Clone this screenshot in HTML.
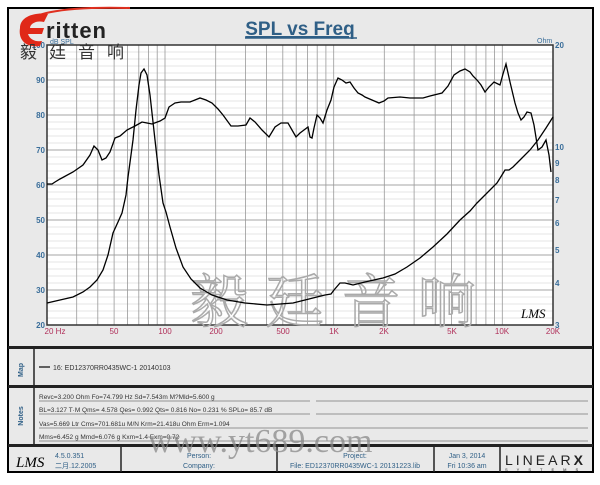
<!DOCTYPE html>
<html><head><meta charset="utf-8"><style>
body{margin:0;background:#fff;width:600px;height:480px;overflow:hidden;font-family:"Liberation Sans","Noto Sans CJK SC",sans-serif}
</style></head><body>
<svg width="600" height="480" viewBox="0 0 600 480" xmlns="http://www.w3.org/2000/svg" font-family="Liberation Sans, Noto Sans CJK SC, sans-serif">
<rect x="8" y="8" width="585" height="464" fill="#e9e9e9" stroke="#000" stroke-width="2"/>
<!-- panels separators -->
<rect x="8" y="346" width="585" height="3" fill="#222"/>
<rect x="8" y="385" width="585" height="3" fill="#222"/>
<rect x="8" y="444" width="585" height="3" fill="#222"/>
<line x1="34" y1="349" x2="34" y2="444" stroke="#222" stroke-width="1.5"/>
<line x1="121" y1="447" x2="121" y2="472" stroke="#222" stroke-width="1.5"/>
<line x1="277" y1="447" x2="277" y2="472" stroke="#222" stroke-width="1.5"/>
<line x1="434" y1="447" x2="434" y2="472" stroke="#222" stroke-width="1.5"/>
<line x1="500" y1="447" x2="500" y2="472" stroke="#222" stroke-width="1.5"/>
<!-- plot -->
<rect x="47" y="45" width="506" height="280" fill="#fff" stroke="#444" stroke-width="1"/>
<g stroke="#ccc" stroke-width="0.6" id="minor">
<line x1="47" x2="553" y1="52" y2="52"/><line x1="47" x2="553" y1="59" y2="59"/><line x1="47" x2="553" y1="66" y2="66"/><line x1="47" x2="553" y1="73" y2="73"/>
<line x1="47" x2="553" y1="87" y2="87"/><line x1="47" x2="553" y1="94" y2="94"/><line x1="47" x2="553" y1="101" y2="101"/><line x1="47" x2="553" y1="108" y2="108"/>
<line x1="47" x2="553" y1="122" y2="122"/><line x1="47" x2="553" y1="129" y2="129"/><line x1="47" x2="553" y1="136" y2="136"/><line x1="47" x2="553" y1="143" y2="143"/>
<line x1="47" x2="553" y1="157" y2="157"/><line x1="47" x2="553" y1="164" y2="164"/><line x1="47" x2="553" y1="171" y2="171"/><line x1="47" x2="553" y1="178" y2="178"/>
<line x1="47" x2="553" y1="192" y2="192"/><line x1="47" x2="553" y1="199" y2="199"/><line x1="47" x2="553" y1="206" y2="206"/><line x1="47" x2="553" y1="213" y2="213"/>
<line x1="47" x2="553" y1="227" y2="227"/><line x1="47" x2="553" y1="234" y2="234"/><line x1="47" x2="553" y1="241" y2="241"/><line x1="47" x2="553" y1="248" y2="248"/>
<line x1="47" x2="553" y1="262" y2="262"/><line x1="47" x2="553" y1="269" y2="269"/><line x1="47" x2="553" y1="276" y2="276"/><line x1="47" x2="553" y1="283" y2="283"/>
<line x1="47" x2="553" y1="297" y2="297"/><line x1="47" x2="553" y1="304" y2="304"/><line x1="47" x2="553" y1="311" y2="311"/><line x1="47" x2="553" y1="318" y2="318"/>
</g>
<g stroke="#888" stroke-width="0.8">
<line x1="47" x2="553" y1="80" y2="80"/><line x1="47" x2="553" y1="115" y2="115"/><line x1="47" x2="553" y1="150" y2="150"/><line x1="47" x2="553" y1="185" y2="185"/><line x1="47" x2="553" y1="220" y2="220"/><line x1="47" x2="553" y1="255" y2="255"/><line x1="47" x2="553" y1="290" y2="290"/>
</g>
<g stroke="#999" stroke-width="0.8">
<line y1="45" y2="325" x1="76.7" x2="76.7"/><line y1="45" y2="325" x1="97.8" x2="97.8"/><line y1="45" y2="325" x1="114.1" x2="114.1"/><line y1="45" y2="325" x1="127.5" x2="127.5"/><line y1="45" y2="325" x1="138.8" x2="138.8"/><line y1="45" y2="325" x1="148.5" x2="148.5"/><line y1="45" y2="325" x1="157.2" x2="157.2"/><line y1="45" y2="325" x1="165" x2="165"/>
<line y1="45" y2="325" x1="215.7" x2="215.7"/><line y1="45" y2="325" x1="245.4" x2="245.4"/><line y1="45" y2="325" x1="266.5" x2="266.5"/><line y1="45" y2="325" x1="282.8" x2="282.8"/><line y1="45" y2="325" x1="296.2" x2="296.2"/><line y1="45" y2="325" x1="307.5" x2="307.5"/><line y1="45" y2="325" x1="317.2" x2="317.2"/><line y1="45" y2="325" x1="325.9" x2="325.9"/><line y1="45" y2="325" x1="333.7" x2="333.7"/>
<line y1="45" y2="325" x1="384.3" x2="384.3"/><line y1="45" y2="325" x1="414.1" x2="414.1"/><line y1="45" y2="325" x1="435.2" x2="435.2"/><line y1="45" y2="325" x1="451.5" x2="451.5"/><line y1="45" y2="325" x1="464.8" x2="464.8"/><line y1="45" y2="325" x1="476.1" x2="476.1"/><line y1="45" y2="325" x1="485.9" x2="485.9"/><line y1="45" y2="325" x1="494.5" x2="494.5"/><line y1="45" y2="325" x1="502.3" x2="502.3"/>
</g>
<rect x="47" y="45" width="506" height="280" fill="none" stroke="#333" stroke-width="1.5"/>
<!-- watermark -->
<text x="190" y="322" font-size="58" fill="none" stroke="#aaa" stroke-width="1.5" font-family="Noto Serif CJK SC, serif" letter-spacing="18">毅廷音响</text>
<!-- curves -->
<polyline fill="none" stroke="#000" stroke-width="1.3" points="47,184 52,184 55,182 60,179 73,172 83,165 90,155 94,146 98,150 102,160 106,158 110,152 115,138 120,136 127,130 135,126 142,122 147,123 152,124 160,121 165,118 169,107 175,103 181,102 190,102 200,98 206,100 212,103 218,109 223,115 231,126 238,126 246,125 250,118 255,122 262,130 269,137 275,127 281,123 288,123 292,130 296,137 300,133 304,130 308,127 310,137 312,138 314,128 317,115 320,118 323,123 327,110 331,100 334,87 338,78 342,80 346,83 350,82 354,88 358,93 362,95 365,97 372,100 379,103 384,101 388,98 400,97 410,98 423,98 430,96 442,93 448,86 454,75 460,71 465,69 470,72 473,76 477,80 481,85 485,92 489,87 494,82 498,84 500,85 503,74 506,64 510,82 515,103 518,113 521,120 524,117 527,112 531,113 534,125 538,150 542,147 546,140 549,155 551,172"/>
<polyline fill="none" stroke="#000" stroke-width="1.3" points="47,303 60,300 73,297 83,292 90,287 97,280 103,270 108,255 113,233 118,222 122,213 126,195 128,177 131,155 133,140 136,110 139,85 141,73 144,69 147,75 150,95 153,122 155,140 159,175 163,203 166,212 170,227 176,248 183,267 191,279 200,288 212,295 227,300 245,303 267,305 280,304 293,303 305,300 317,297 325,295 331,294 334,290 340,283 345,283 353,285 365,282 383,278 395,274 407,267 420,258 433,247 447,234 460,220 470,211 477,203 487,193 497,183 502,175 505,170 509,170 513,167 521,159 530,150 538,140 546,128 553,117"/>
<!-- LMS logo in plot -->
<text x="521" y="318" font-size="13" font-style="italic" fill="#000" font-family="Liberation Serif, serif">LMS</text>
<!-- axis labels -->
<g font-size="8" fill="#3a6e9a" font-weight="bold" text-anchor="end">
<text x="45" y="48">100</text><text x="45" y="83">90</text><text x="45" y="118">80</text><text x="45" y="153">70</text><text x="45" y="188">60</text><text x="45" y="223">50</text><text x="45" y="258">40</text><text x="45" y="293">30</text><text x="45" y="328">20</text>
</g>
<text x="50" y="44" font-size="7" fill="#3a6e9a">dB SPL</text>
<text x="537" y="43" font-size="7" fill="#3a6e9a">Ohm</text>
<g font-size="8" fill="#3a6e9a" font-weight="bold">
<text x="555" y="48">20</text><text x="555" y="150">10</text><text x="555" y="166">9</text><text x="555" y="183">8</text><text x="555" y="203">7</text><text x="555" y="226">6</text><text x="555" y="253">5</text><text x="555" y="286">4</text><text x="555" y="328">3</text>
</g>
<g font-size="8" fill="#b0305a" text-anchor="middle">
<text x="55" y="334">20 Hz</text><text x="114" y="334">50</text><text x="165" y="334">100</text><text x="216" y="334">200</text><text x="283" y="334">500</text><text x="334" y="334">1K</text><text x="384" y="334">2K</text><text x="452" y="334">5K</text><text x="502" y="334">10K</text><text x="553" y="334">20K</text>
</g>
<!-- title -->
<text x="300" y="35" font-size="19" font-weight="bold" fill="#2f5f86" text-anchor="middle" text-decoration="underline">SPL vs Freq</text>
<line x1="245" y1="38" x2="357" y2="38" stroke="#2f5f86" stroke-width="1.5"/>
<!-- logo -->
<path d="M22,30 C22,14 60,6 130,8" fill="none" stroke="#e03020" stroke-width="2"/>
<path d="M20,28 C20,16 36,12 48,14 L44,22 C36,20 30,24 30,28 L44,28 L42,34 L28,34 C30,40 36,42 42,41 L40,46 C26,48 18,40 20,28 Z" fill="#e02818"/>
<text x="46" y="38" font-size="22" font-weight="bold" fill="#222" letter-spacing="1">ritten</text>
<text x="20" y="58" font-size="17" fill="#333" letter-spacing="12" font-family="Noto Sans CJK SC, sans-serif">毅廷音响</text>
<!-- Map -->
<text transform="translate(23,370) rotate(-90)" font-size="7" font-weight="bold" fill="#2f5f86" text-anchor="middle">Map</text>
<line x1="39" y1="367" x2="50" y2="367" stroke="#333" stroke-width="1.5"/>
<text x="53" y="370" font-size="7" fill="#333">16: ED12370RR0435WC-1    20140103</text>
<!-- Notes -->
<text transform="translate(23,416) rotate(-90)" font-size="7" font-weight="bold" fill="#2f5f86" text-anchor="middle">Notes</text>
<g font-size="6.5" fill="#333">
<text x="39" y="399">Revc=3.200 Ohm  Fo=74.799 Hz  Sd=7.543m M?Mld=5.600 g</text>
<text x="39" y="412">BL=3.127 T·M  Qms= 4.578  Qes= 0.992  Qts= 0.816  No= 0.231 %  SPLo= 85.7 dB</text>
<text x="39" y="426">Vas=5.669 Ltr  Cms=701.681u M/N  Krm=21.418u Ohm  Erm=1.094</text>
<text x="39" y="439">Mms=6.452 g  Mmd=6.076 g  Kxm=1.4  Exm=0.72</text>
</g>
<g stroke="#777" stroke-width="0.7">
<line x1="39" x2="310" y1="401" y2="401"/><line x1="316" x2="588" y1="401" y2="401"/>
<line x1="39" x2="310" y1="414" y2="414"/><line x1="316" x2="588" y1="414" y2="414"/>
<line x1="39" x2="588" y1="428" y2="428"/>
<line x1="39" x2="588" y1="441" y2="441"/>
</g>
<text x="148" y="452" font-size="34" fill="#888" fill-opacity="0.75" font-family="Liberation Serif, serif">www.yt689.com</text>
<!-- footer -->
<text x="16" y="467" font-size="15" font-style="italic" fill="#000" font-family="Liberation Serif, serif">LMS</text>
<g font-size="7" fill="#2f5f86">
<text x="55" y="458">4.5.0.351</text><text x="55" y="468">二月.12.2005</text>
<text x="199" y="458" text-anchor="middle">Person:</text><text x="199" y="468" text-anchor="middle">Company:</text>
<text x="355" y="458" text-anchor="middle">Project:</text><text x="355" y="468" text-anchor="middle">File: ED12370RR0435WC-1 20131223.lib</text>
<text x="467" y="458" text-anchor="middle">Jan  3, 2014</text><text x="467" y="468" text-anchor="middle">Fri 10:36 am</text>
</g>
<text x="505" y="465" font-size="14" fill="#222" letter-spacing="3">LINEAR<tspan font-weight="bold">X</tspan></text>
<text x="505" y="471" font-size="4" fill="#222" letter-spacing="9">SYSTEMS</text>
</svg>
</body></html>
